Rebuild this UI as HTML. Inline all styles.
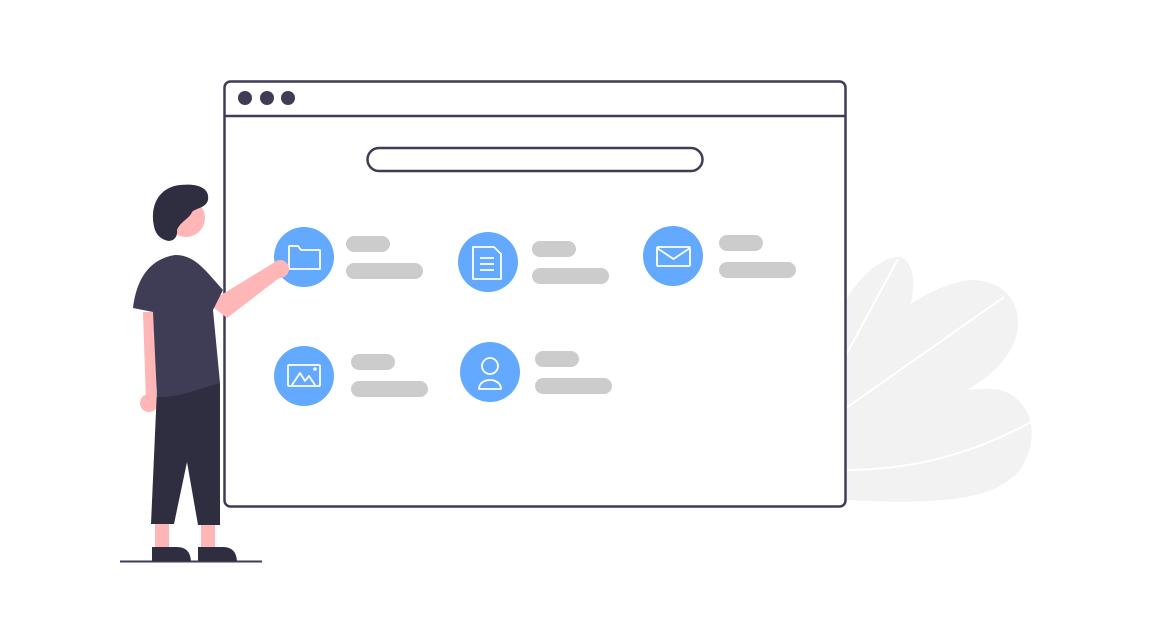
<!DOCTYPE html>
<html><head><style>html,body{margin:0;padding:0;background:#fff;}svg{display:block}</style></head>
<body>
<svg width="1153" height="643" viewBox="0 0 1153 643" xmlns="http://www.w3.org/2000/svg">
<!-- leaves -->
<g fill="#f2f2f2">
<path d="M846 300 C860 275 885 255 900 257 C915 262 918 290 905 320 L846 400 Z"/>
<path d="M846 360 C880 320 930 285 970 280 C1010 280 1025 310 1015 340 C1000 380 950 405 846 440 Z"/>
<path d="M846 430 C900 400 960 385 1000 390 C1035 400 1040 440 1020 470 C995 500 940 505 846 500 Z"/>
</g>
<g stroke="#fff" stroke-width="2" fill="none">
<path d="M898 259 L846 355"/>
<path d="M1004 297 L846 408"/>
<path d="M1033 421 C980 450 920 470 846 470"/>
</g>
<!-- browser -->
<rect x="224.5" y="81.5" width="621" height="425" rx="6" fill="#fff" stroke="#3f3d56" stroke-width="2.5"/>
<line x1="224" y1="116" x2="846" y2="116" stroke="#3f3d56" stroke-width="2.5"/>
<circle cx="245" cy="98" r="7" fill="#3f3d56"/><circle cx="267" cy="98" r="7" fill="#3f3d56"/><circle cx="288" cy="98" r="7" fill="#3f3d56"/>
<rect x="367.5" y="148" width="335" height="23" rx="11.5" fill="#fff" stroke="#3f3d56" stroke-width="2.5"/>
<!-- bars -->
<g fill="#cccccc">
<rect x="346" y="236" width="44" height="16" rx="8"/><rect x="346" y="263" width="77" height="16" rx="8"/>
<rect x="532" y="241" width="44" height="16" rx="8"/><rect x="532" y="268" width="77" height="16" rx="8"/>
<rect x="719" y="235" width="44" height="16" rx="8"/><rect x="719" y="262" width="77" height="16" rx="8"/>
<rect x="351" y="354" width="44" height="16" rx="8"/><rect x="351" y="381" width="77" height="16" rx="8"/>
<rect x="535" y="351" width="44" height="16" rx="8"/><rect x="535" y="378" width="77" height="16" rx="8"/>
</g>
<!-- icons -->
<g fill="#63a9ff">
<circle cx="304" cy="257" r="30"/><circle cx="488" cy="262" r="30"/><circle cx="673" cy="256" r="30"/>
<circle cx="304" cy="376" r="30"/><circle cx="490" cy="372" r="30"/>
</g>
<g fill="none" stroke="#fff" stroke-width="1.8" stroke-linejoin="round">
<path d="M289 246 h9 l3 4 h19 v19 h-31 z"/>
<path d="M473 247 h21 l7 7 v25 h-28 z"/>
<path d="M480 258 h14 M480 264 h14 M480 270 h14"/>
<rect x="657" y="247" width="33" height="19" rx="1"/>
<path d="M657 248 l16.5 11 l16.5 -11"/>
<rect x="288" y="365" width="32" height="21" rx="1"/>
<path d="M292 385 l8 -12 l5 8 l4 -5 l6 9"/>
<path d="M482 366 a8 8 0 1 0 16 0 a8 8 0 1 0 -16 0 M479 389 c0 -12 22 -12 22 0 z"/>
</g>
<circle cx="315" cy="369" r="1.8" fill="#fff"/>
<!-- person -->
<line x1="120" y1="561.5" x2="262" y2="561.5" stroke="#3f3d56" stroke-width="2"/>
<g fill="#ffb6b6">
<rect x="155" y="518" width="14" height="32"/><rect x="201" y="518" width="14" height="32"/>
<circle cx="186" cy="218" r="19"/>
<path d="M143 312 L158 312 L156 402 L146 402 Z"/><circle cx="149" cy="403" r="9"/>
<path d="M208 303 L275 262 L287 272 L227 318 Z"/><circle cx="280" cy="269" r="9"/>
</g>
<g fill="#2f2e41">
<path d="M157 389 L220 383 L220 525 L198 525 L187 462 L174 524 L151 524 Z"/>
<path d="M152 547 h25 q13 0 14 14 h-39 z"/><path d="M198 547 h25 q13 0 14 14 h-39 z"/>
<path d="M155 230 C148 205 160 187 180 185 C198 183 210 188 208 200 C206 208 196 208 192 212 C190 218 180 222 177 230 C178 238 172 243 165 240 C160 238 157 235 155 230 Z"/>
</g>
<path d="M133 308 C136 285 145 260 175 255 C195 255 205 270 223 290 L213 310 L220 383 C200 388 180 398 157 397 L153 312 Z" fill="#3f3d56"/>
</svg>
</body></html>
